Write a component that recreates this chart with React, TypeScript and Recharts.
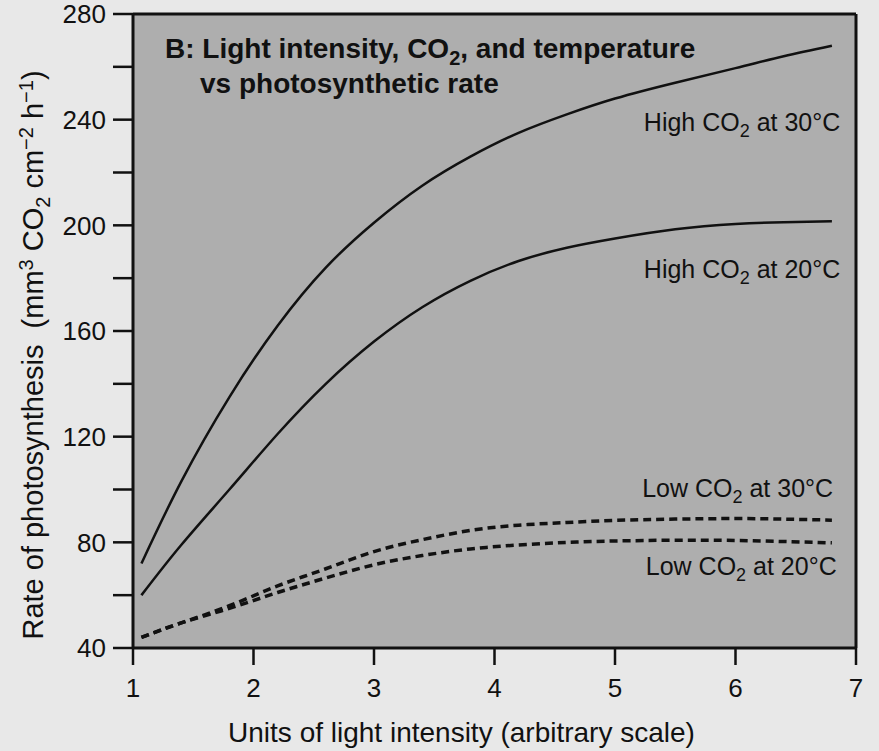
import {
  CartesianGrid,
  Label,
  Line,
  LineChart,
  ReferenceDot,
  ReferenceLine,
  XAxis,
  YAxis,
} from "recharts";

// light intensity (arbitrary units) sampled along the curves
const lightUnits = [1.07, 1.4, 1.8, 2.2, 2.6, 3.0, 3.4, 3.8, 4.2, 4.6, 5.0, 5.5, 6.0, 6.4, 6.8];

// rate of photosynthesis, mm3 CO2 cm-2 h-1
const highCo2At30 = [72, 103, 135, 162, 184, 201, 215, 226, 235, 242, 248, 254, 259.5, 264, 268];
const highCo2At20 = [60, 79, 100, 121, 140, 156, 169, 179, 186.5, 191.5, 195, 198.5, 200.5, 201.2, 201.5];
const lowCo2At30 = [44, 49.5, 56, 63.5, 70, 76.5, 81, 84.5, 86.5, 87.5, 88.3, 88.8, 89, 88.8, 88.4];
const lowCo2At20 = [44, 49.5, 55, 61, 66.5, 71.5, 75, 77.5, 79, 80, 80.5, 80.8, 80.7, 80.3, 79.8];

const xTicks = [1, 2, 3, 4, 5, 6, 7];
const yTicks = [40, 60, 80, 100, 120, 140, 160, 180, 200, 220, 240, 260, 280];

// label text is split as [before, subscript, after]
const seriesLabels = [
  { parts: ["High CO", "2", " at 30°C"], x: 6.87, y: 235.7 },
  { parts: ["High CO", "2", " at 20°C"], x: 6.87, y: 180 },
  { parts: ["Low CO", "2", " at 30°C"], x: 6.81, y: 97.2 },
  { parts: ["Low CO", "2", " at 20°C"], x: 6.84, y: 67.6 },
];

const data = lightUnits.map((x, i) => ({
  x,
  high30: highCo2At30[i],
  high20: highCo2At20[i],
  low30: lowCo2At30[i],
  low20: lowCo2At20[i],
}));

const FONT = "'Liberation Sans', Arial, Helvetica, sans-serif";
const INK = "#111";

const renderSeriesLabel = (parts: string[]) => (props: any) => {
  const { viewBox } = props;
  return (
    <text
      x={viewBox.x}
      y={viewBox.y}
      textAnchor="end"
      fontFamily={FONT}
      fontSize={25}
      fill={INK}
    >
      {parts[0]}
      <tspan dy={6} fontSize={18}>
        {parts[1]}
      </tspan>
      <tspan dy={-6}>{parts[2]}</tspan>
    </text>
  );
};

const renderYLabel = (props: any) => {
  const { viewBox } = props;
  const cx = viewBox.x + 43;
  const cy = 355;
  return (
    <text
      x={cx}
      y={cy}
      transform={`rotate(-90, ${cx}, ${cy})`}
      textAnchor="middle"
      fontFamily={FONT}
      fontSize={29}
      fill={INK}
      style={{ whiteSpace: "pre" }}
    >
      {"Rate of photosynthesis  (mm"}
      <tspan dy={-10} fontSize={20}>3</tspan>
      <tspan dy={10}> CO</tspan>
      <tspan dy={7} fontSize={20}>2</tspan>
      <tspan dy={-7}> cm</tspan>
      <tspan dy={-10} fontSize={20}>−2</tspan>
      <tspan dy={10}> h</tspan>
      <tspan dy={-10} fontSize={20}>−1</tspan>
      <tspan dy={10}>)</tspan>
    </text>
  );
};

const renderXLabel = (props: any) => {
  const { viewBox } = props;
  return (
    <text
      x={viewBox.x + viewBox.width / 2 - 33}
      y={viewBox.y + 94}
      textAnchor="middle"
      fontFamily={FONT}
      fontSize={28}
      fill={INK}
    >
      Units of light intensity (arbitrary scale)
    </text>
  );
};

const Title = (props: any) => {
  const { viewBox } = props;
  const x = viewBox.x;
  const y = viewBox.y;
  return (
    <text fontFamily={FONT} fontWeight="bold" fontSize={28} fill={INK}>
      <tspan x={x + 32} y={y + 44}>
        B: Light intensity, CO
      </tspan>
      <tspan dy={7} fontSize={20}>2</tspan>
      <tspan dy={-7}>, and temperature</tspan>
      <tspan x={x + 67} y={y + 79}>
        vs photosynthetic rate
      </tspan>
    </text>
  );
};

const PhotosynthesisChart = () => {
  return (
    <div
      style={{
        position: "absolute",
        left: 0,
        top: 0,
        width: 879,
        height: 751,
        background: "#e8e8e8",
      }}
    >
      <LineChart
        width={879}
        height={751}
        data={data}
        margin={{ top: 14, right: 23, left: 0, bottom: 0 }}
      >
        <CartesianGrid fill="#aeaeae" horizontal={false} vertical={false} />
        <XAxis
          dataKey="x"
          type="number"
          domain={[1, 7]}
          ticks={xTicks}
          height={103}
          tickSize={17}
          tickMargin={14}
          axisLine={{ stroke: INK, strokeWidth: 3 }}
          tickLine={{ stroke: INK, strokeWidth: 2.5 }}
          tick={{ fill: INK, fontSize: 26, fontFamily: FONT }}
        >
          <Label content={renderXLabel} />
        </XAxis>
        <YAxis
          type="number"
          domain={[40, 280]}
          ticks={yTicks}
          width={133}
          tickSize={20}
          tickMargin={7}
          interval={0}
          tickFormatter={(v: number) => (v % 40 === 0 ? String(v) : "")}
          axisLine={{ stroke: INK, strokeWidth: 3 }}
          tickLine={{ stroke: INK, strokeWidth: 2.5 }}
          tick={{ fill: INK, fontSize: 26, fontFamily: FONT }}
        >
          <Label content={renderYLabel} />
        </YAxis>
        <ReferenceLine y={280} stroke={INK} strokeWidth={3} />
        <ReferenceLine x={7} stroke={INK} strokeWidth={3} />
        <ReferenceDot x={1} y={280} r={0} stroke="none" label={{ content: Title }} />
        <Line
          type="natural"
          dataKey="high30"
          stroke={INK}
          strokeWidth={2.5}
          dot={false}
          isAnimationActive={false}
        />
        <Line
          type="natural"
          dataKey="high20"
          stroke={INK}
          strokeWidth={2.5}
          dot={false}
          isAnimationActive={false}
        />
        <Line
          type="natural"
          dataKey="low30"
          stroke={INK}
          strokeWidth={3.5}
          strokeDasharray="8 5"
          dot={false}
          isAnimationActive={false}
        />
        <Line
          type="natural"
          dataKey="low20"
          stroke={INK}
          strokeWidth={3.5}
          strokeDasharray="8 5"
          dot={false}
          isAnimationActive={false}
        />
        {seriesLabels.map((s) => (
          <ReferenceDot
            key={s.parts.join("")}
            x={s.x}
            y={s.y}
            r={0}
            stroke="none"
            label={{ content: renderSeriesLabel(s.parts) }}
          />
        ))}
      </LineChart>
    </div>
  );
};

export default function App() {
  return <PhotosynthesisChart />;
}
